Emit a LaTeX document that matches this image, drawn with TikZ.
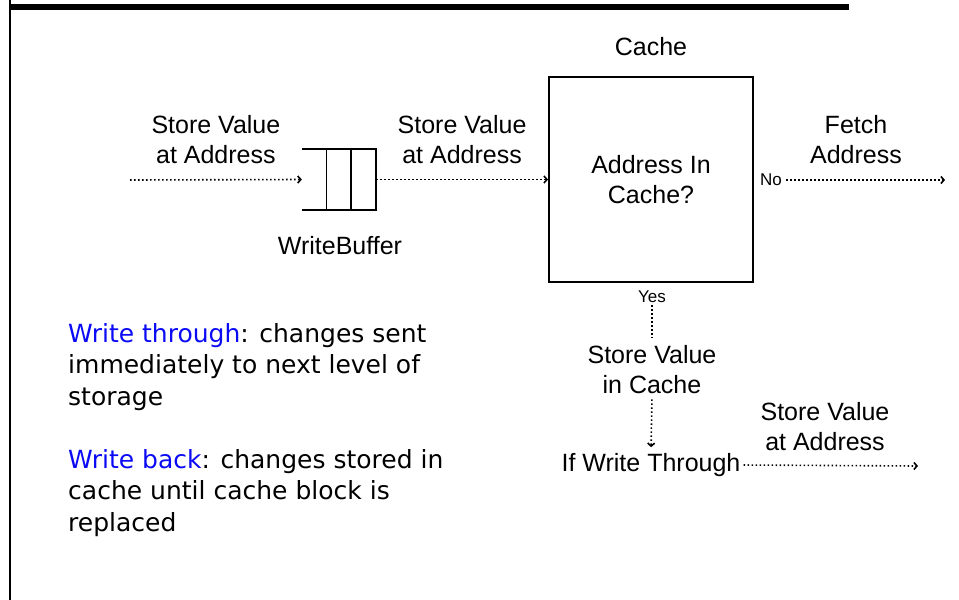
\documentclass[tikz,border=0pt]{standalone}
\usepackage{fontspec}
\setmainfont{Liberation Sans}
\newfontfamily\notefont{DejaVu Sans}
\usetikzlibrary{arrows.meta,positioning,calc}
\definecolor{keyblue}{RGB}{10,10,245}
\tikzstyle{txt} = [align=center, inner sep=0pt, font=\fontsize{25}{30}\selectfont]
\tikzstyle{small} = [inner sep=0pt, font=\fontsize{17}{18}\selectfont]
\tikzstyle{dots} = [draw, line width=1.6pt, dash pattern=on 1.6pt off 2.4pt]
\tikzstyle{flow} = [dots, -{Straight Barb[length=3pt,width=7pt]}]
\tikzstyle{cell} = [draw, line width=1.5pt]

\begin{document}
\begin{tikzpicture}[x=1pt, y=-1pt]
	\useasboundingbox (0,0) rectangle (959,600);

	% frame
	\draw [line width=2pt] (10,0) -- (10,600);
	\draw [line width=5.5pt] (10,7) -- (849,7);

	% cache
	\node [draw, line width=2pt, minimum width=204pt, minimum height=205pt, txt] (cache) at (651,179.5) {Address In\\Cache?};
	\node [txt] (cachetitle) at (651,47) {Cache};

	% write buffer
	\node [minimum width=74pt, minimum height=61pt, inner sep=0pt] (buffer) at (339,179.5) {};
	\draw [cell] (buffer.north west) -- (buffer.north east) -- (buffer.south east) -- (buffer.south west);
	\draw [cell] ($(buffer.north west)!0.33!(buffer.north east)$) -- ($(buffer.south west)!0.33!(buffer.south east)$);
	\draw [cell] ($(buffer.north west)!0.66!(buffer.north east)$) -- ($(buffer.south west)!0.66!(buffer.south east)$);
	\node [txt] (buffertitle) at (340,246) {WriteBuffer};

	\coordinate (in) at (130,180);
	\path [flow] (in) -- node [txt, yshift=40pt] (store1) {Store Value\\at Address} (buffer.west);
	\path [flow] (buffer.east) -- node [txt, yshift=40pt] (store2) {Store Value\\at Address} (cache.west);

	% miss
	\node [small] (no) at (771,180) {No};
	\coordinate (fetch) at (945,180);
	\node [txt] (fetchtitle) at (856,140) {Fetch\\Address};
	\path [flow, shorten <=4pt] (no.east) -- (fetch);

	% hit
	\node [small] (yes) at (652,297) {Yes};
	\node [txt] (storecache) at (652,370) {Store Value\\in Cache};
	\node [txt] (ifwt) at (651,465) {If Write Through};
	\coordinate (out) at (918,466);
	\path [dots, shorten <=2pt, shorten >=8pt] (yes.south) -- (storecache.north);
	\path [flow, shorten <=5pt, shorten >=6pt] (storecache.south) -- (ifwt.north);
	\path [flow, shorten <=3pt] (ifwt.east) -- (out);
	\node [txt] (store3) at (825,427) {Store Value\\at Address};

	% notes
	\node [anchor=north west, align=left, inner sep=0pt, font=\notefont\fontsize{25}{31.5}\selectfont] (notes) at (68,323)
		{\textcolor{keyblue}{Write through}: changes sent\\immediately to next level of\\storage\\[31.5pt]\textcolor{keyblue}{Write back}: changes stored in\\cache until cache block is\\replaced};
\end{tikzpicture}
\end{document}
